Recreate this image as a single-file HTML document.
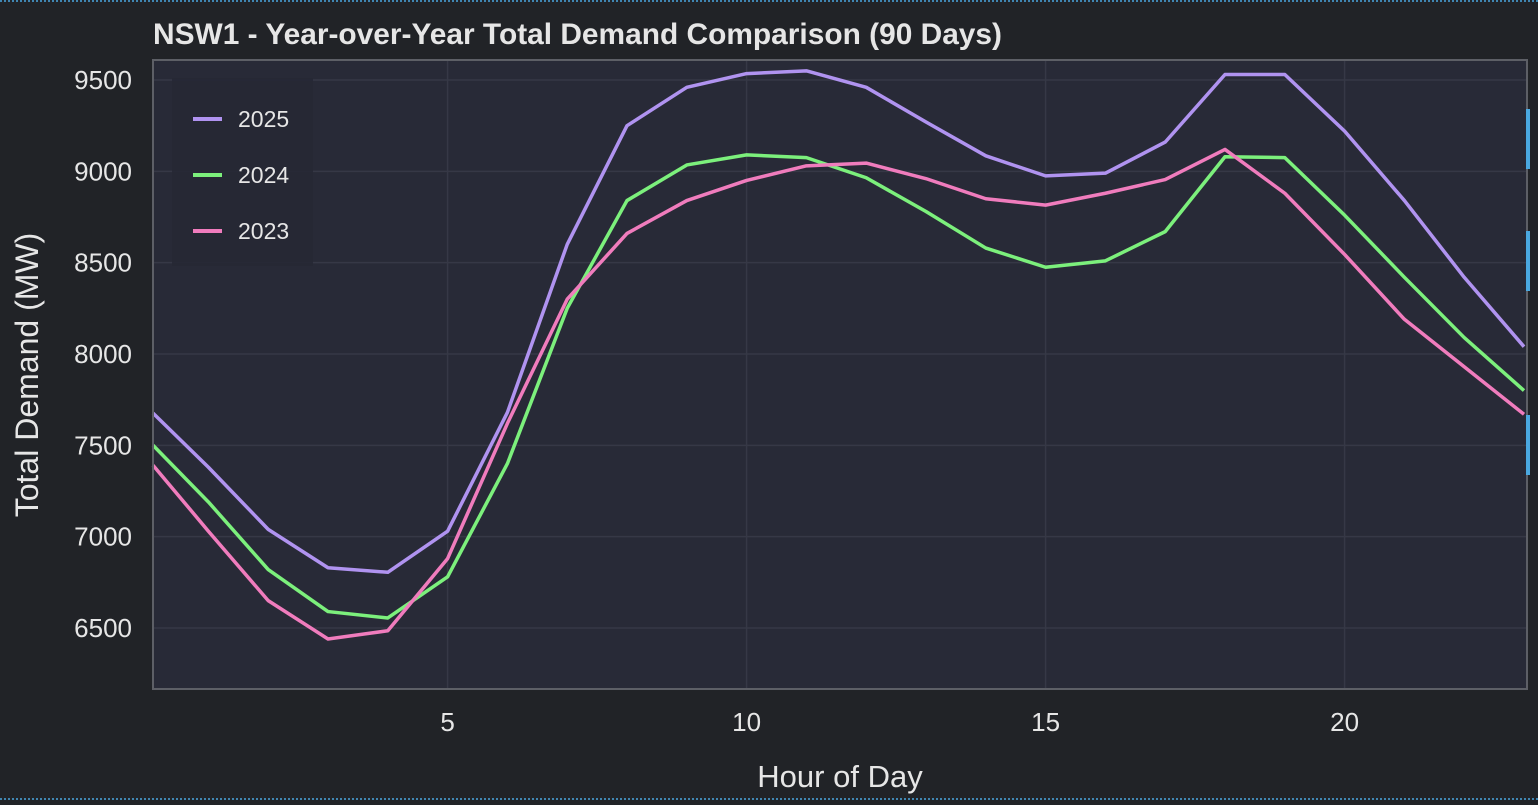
<!DOCTYPE html>
<html><head><meta charset="utf-8"><style>
html,body{margin:0;padding:0;background:#212327;}
body{width:1538px;height:800px;overflow:hidden;font-family:"Liberation Sans",sans-serif;}
</style></head><body>
<svg id="s" width="1538" height="800" xmlns="http://www.w3.org/2000/svg" font-family="Liberation Sans, sans-serif">
<rect width="1538" height="800" fill="#212327"/>
<line x1="0" y1="1" x2="1538" y2="1" stroke="#4aa8e0" stroke-width="1.5" stroke-dasharray="2,2"/>
<line x1="0" y1="799" x2="1538" y2="799" stroke="#4aa8e0" stroke-width="1.5" stroke-dasharray="2,2"/>
<text x="153" y="44" fill="#e6e6e6" font-size="29.5" font-weight="bold" textLength="849" lengthAdjust="spacingAndGlyphs">NSW1 - Year-over-Year Total Demand Comparison (90 Days)</text>
<rect x="153" y="60" width="1374" height="629" fill="#282a37"/>
<g id="grid" stroke="#363846" stroke-width="1.5"></g>
<rect x="172" y="78" width="141" height="188" fill="#262834" opacity="0.9"/>
<g id="lines" fill="none" stroke-width="3.5" stroke-linejoin="round"></g>
<rect x="153" y="60" width="1374" height="629" fill="none" stroke="#5d5f66" stroke-width="2"/>
<g fill="#e6e6e6" font-size="26" text-anchor="end" id="yt"></g>
<g fill="#e6e6e6" font-size="26" text-anchor="middle" id="xt"></g>
<text x="840" y="787" fill="#e6e6e6" font-size="31" text-anchor="middle">Hour of Day</text>
<text transform="translate(38,375) rotate(-90)" fill="#e6e6e6" font-size="32" text-anchor="middle">Total Demand (MW)</text>
<line x1="193" y1="119" x2="222" y2="119" stroke="#b093f0" stroke-width="4"/>
<line x1="193" y1="175" x2="222" y2="175" stroke="#7cf07c" stroke-width="4"/>
<line x1="193" y1="231" x2="222" y2="231" stroke="#f07cbd" stroke-width="4"/>
<g fill="#e6e6e6" font-size="23"><text x="238" y="127">2025</text><text x="238" y="183">2024</text><text x="238" y="239">2023</text></g>
<g fill="#4aa8e0"><rect x="1526" y="109" width="4" height="60"/><rect x="1526" y="231" width="4" height="60"/><rect x="1526" y="415" width="4" height="60"/></g>
</svg>
<script>
var X=function(h){return 148.6+59.8*h;},Y=function(v){return 80+(9500-v)*0.18267;};
var ns="http://www.w3.org/2000/svg";
function el(p,t,a,txt){var e=document.createElementNS(ns,t);for(var k in a)e.setAttribute(k,a[k]);if(txt)e.textContent=txt;document.getElementById(p).appendChild(e);}
[6500,7000,7500,8000,8500,9000,9500].forEach(function(v){el("grid","line",{x1:153,x2:1527,y1:Y(v),y2:Y(v)});el("yt","text",{x:132,y:Y(v)+9},String(v));});
[5,10,15,20].forEach(function(h){el("grid","line",{x1:X(h),x2:X(h),y1:60,y2:689});el("xt","text",{x:X(h),y:731},String(h));});
var d={"#b093f0":[7700,7380,7040,6830,6805,7030,7680,8600,9250,9460,9535,9550,9460,9270,9085,8975,8990,9160,9530,9530,9220,8840,8420,8040],
"#7cf07c":[7525,7190,6820,6590,6555,6780,7400,8250,8840,9035,9090,9075,8965,8780,8580,8475,8510,8670,9080,9075,8760,8420,8090,7800],
"#f07cbd":[7420,7030,6650,6440,6485,6880,7620,8300,8660,8840,8950,9030,9045,8960,8850,8815,8880,8955,9120,8880,8545,8190,7930,7670]};
["#b093f0","#7cf07c","#f07cbd"].forEach(function(c){var v=d[c];var p=[];
var y0=v[0]+(v[1]-v[0])*((153-148.6)/59.8);p.push("153,"+Y(y0));
for(var i=1;i<v.length;i++)p.push(X(i)+","+Y(v[i]));
el("lines","polyline",{points:p.join(" "),stroke:c});});
</script>
</body></html>
